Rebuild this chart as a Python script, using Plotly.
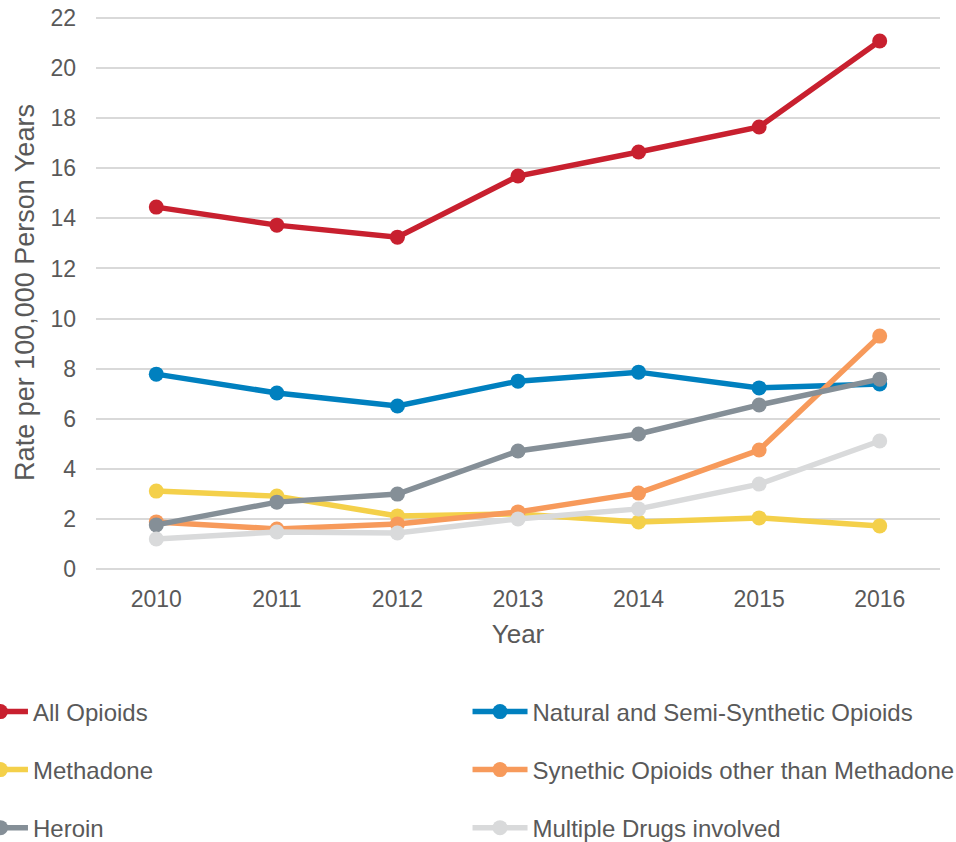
import plotly.graph_objects as go

years = ["2010", "2011", "2012", "2013", "2014", "2015", "2016"]
all_opioids = [14.45, 13.73, 13.25, 15.69, 16.65, 17.65, 21.08]
natural_semi = [7.78, 7.03, 6.51, 7.50, 7.86, 7.23, 7.39]
methadone = [3.11, 2.91, 2.12, 2.20, 1.88, 2.04, 1.72]
synthetic = [1.88, 1.60, 1.80, 2.28, 3.03, 4.75, 9.30]
heroin = [1.76, 2.67, 2.99, 4.71, 5.39, 6.55, 7.58]
multiple = [1.20, 1.48, 1.44, 2.00, 2.40, 3.39, 5.11]

series_names = ["All Opioids", "Natural and Semi-Synthetic Opioids", "Methadone",
                "Synethic Opioids other than Methadone", "Heroin", "Multiple Drugs involved"]
series_values = [all_opioids, natural_semi, methadone, synthetic, heroin, multiple]
series_colors = ["#C8202F", "#0080BF", "#F4D04A", "#F79A5B", "#858F97", "#D9DADB"]

# legend slots (2 columns x 3 rows)
legend_ids = ["legend", "legend2", "legend3", "legend4", "legend5", "legend6"]
col_x = [-0.1517, 0.4402]
row_y = [-0.2586, -0.3635, -0.4684]

fig = go.Figure()
for i, (name, vals, color) in enumerate(zip(series_names, series_values, series_colors)):
    fig.add_trace(go.Scatter(
        x=years, y=vals, name=name, mode="lines+markers",
        line=dict(color=color, width=5.5),
        marker=dict(color=color, size=15),
        legend=legend_ids[i], showlegend=True,
    ))

font_color = "#595959"
legends = {}
for i, lid in enumerate(legend_ids):
    legends[lid] = dict(
        x=col_x[i % 2], y=row_y[i // 2], xanchor="left", yanchor="middle",
        itemwidth=55, font=dict(size=24, color=font_color),
        bgcolor="rgba(0,0,0,0)", borderwidth=0, visible=True,
    )

fig.update_layout(
    width=956, height=842,
    showlegend=True,
    margin=dict(l=96, r=16, t=16, b=273, autoexpand=False),
    paper_bgcolor="white", plot_bgcolor="white",
    font=dict(family="Liberation Sans, Arial, sans-serif", color=font_color),
    xaxis=dict(
        title=dict(text="Year", font=dict(size=26, color=font_color), standoff=13),
        tickfont=dict(size=23, color=font_color),
        range=[-0.5, 6.5],
        showgrid=False, showline=False, zeroline=False, ticks="",
        ticklabelstandoff=14,
    ),
    yaxis=dict(
        title=dict(text="Rate per 100,000 Person Years", font=dict(size=27, color=font_color), standoff=7),
        tickfont=dict(size=23, color=font_color),
        range=[0, 22.08], dtick=2, tickmode="linear", tick0=0,
        showgrid=True, gridcolor="#D9D9D9", gridwidth=2,
        zeroline=True, zerolinecolor="#D9D9D9", zerolinewidth=2,
        showline=False, ticks="", ticklabelstandoff=19,
        ticklabeloverflow="allow",
    ),
    **legends,
)

# remove the browser's default 8px body margin so the figure fills the window
fig.write_html("out.html", config={"displayModeBar": False},
               post_script="document.body.style.margin='0';")
